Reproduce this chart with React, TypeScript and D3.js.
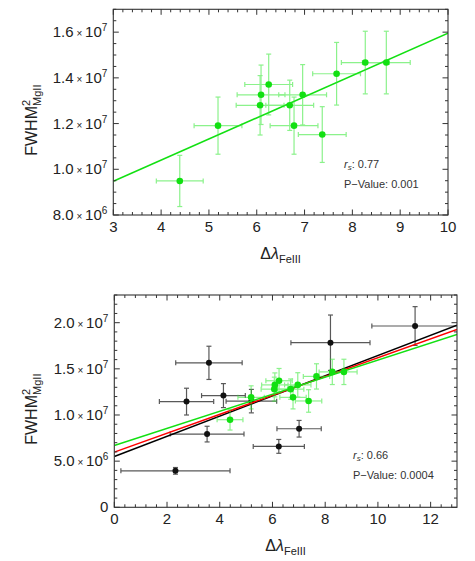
import React, { useEffect, useRef } from "react";
import * as d3 from "d3";

// green sample (shown in both panels)
const greenX = [4.39, 5.19, 6.07, 6.09, 6.25, 6.69, 6.78, 6.96, 7.37, 7.67, 8.27, 8.71];
const greenY = [9.49e6, 1.191e7, 1.28e7, 1.326e7, 1.371e7, 1.28e7, 1.191e7, 1.326e7, 1.152e7, 1.418e7, 1.467e7, 1.467e7];
const greenXErr = [0.49, 0.5, 0.5, 0.5, 0.5, 0.5, 0.5, 0.5, 0.5, 0.5, 0.5, 0.5];
const greenYErr = [1.12e6, 1.25e6, 1.3e6, 1.3e6, 1.33e6, 1.1e6, 1.25e6, 1.32e6, 1.22e6, 1.37e6, 1.37e6, 1.37e6];

// black sample (bottom panel only)
const blackX = [2.32, 2.74, 3.52, 3.59, 4.14, 5.2, 6.24, 7.01, 8.2, 11.41];
const blackY = [3.95e6, 1.145e7, 7.93e6, 1.565e7, 1.21e7, 1.15e7, 6.6e6, 8.51e6, 1.783e7, 1.964e7];
const blackXErr = [2.07, 1.03, 1.4, 1.26, 0.83, 0.96, 0.97, 0.84, 1.5, 1.64];
const blackYErr = [0.36e6, 1.45e6, 0.85e6, 1.8e6, 1.3e6, 1.27e6, 0.75e6, 0.9e6, 3.0e6, 2.1e6];

// linear fits: [intercept, slope]
const greenFit = [6.7e6, 9.25e5];
const blackFit = [5.5e6, 1.095e6];
const redFit = [5.98e6, 1.023e6];

// axes
const topXTicks = [3, 4, 5, 6, 7, 8, 9, 10];
const topYTicks = [8e6, 1e7, 1.2e7, 1.4e7, 1.6e7];
const bottomXTicks = [0, 2, 4, 6, 8, 10, 12];
const bottomYTicks = [0, 5e6, 1e7, 1.5e7, 2e7];

const topStats = ["0.77", "0.001"];
const bottomStats = ["0.66", "0.0004"];

const GREEN = "#12e012";
const FONT = "'Liberation Sans', Arial, sans-serif";

type Box = { left: number; right: number; top: number; bottom: number };

const drawPanel = (svg: any, id: string, box: Box, cfg: any) => {
  const x = d3.scaleLinear().domain(cfg.xDomain).range([box.left, box.right]);
  const y = d3.scaleLinear().domain(cfg.yDomain).range([box.bottom, box.top]);

  svg
    .append("clipPath")
    .attr("id", id)
    .append("rect")
    .attr("x", box.left)
    .attr("y", box.top)
    .attr("width", box.right - box.left)
    .attr("height", box.bottom - box.top);

  const g = svg.append("g");
  const plot = g.append("g").attr("clip-path", `url(#${id})`);

  // error bars + points for one series
  const drawSeries = (xs: number[], ys: number[], xe: number[], ye: number[], color: string, barColor: string, barOpacity: number, r: number) => {
    const cap = 2.5;
    const bars = plot.append("g").attr("stroke", barColor).attr("stroke-width", 1.2).attr("opacity", barOpacity);
    xs.forEach((xv, i) => {
      const cx = x(xv), cy = y(ys[i]);
      const x0 = x(xv - xe[i]), x1 = x(xv + xe[i]);
      const y0 = y(ys[i] - ye[i]), y1 = y(ys[i] + ye[i]);
      bars.append("line").attr("x1", x0).attr("x2", x1).attr("y1", cy).attr("y2", cy);
      bars.append("line").attr("x1", x0).attr("x2", x0).attr("y1", cy - cap).attr("y2", cy + cap);
      bars.append("line").attr("x1", x1).attr("x2", x1).attr("y1", cy - cap).attr("y2", cy + cap);
      bars.append("line").attr("x1", cx).attr("x2", cx).attr("y1", y0).attr("y2", y1);
      bars.append("line").attr("x1", cx - cap).attr("x2", cx + cap).attr("y1", y0).attr("y2", y0);
      bars.append("line").attr("x1", cx - cap).attr("x2", cx + cap).attr("y1", y1).attr("y2", y1);
    });
    plot
      .append("g")
      .selectAll("circle")
      .data(xs)
      .enter()
      .append("circle")
      .attr("cx", (d: number) => x(d))
      .attr("cy", (_: number, i: number) => y(ys[i]))
      .attr("r", r)
      .attr("fill", color);
  };

  const drawFit = (fit: number[], color: string) => {
    const line = d3
      .line<number>()
      .x((d) => x(d))
      .y((d) => y(fit[0] + fit[1] * d));
    plot.append("path").attr("d", line(cfg.xDomain)).attr("fill", "none").attr("stroke", color).attr("stroke-width", 1.5);
  };

  if (cfg.black) {
    drawSeries(blackX, blackY, blackXErr, blackYErr, "#111", "#222", 0.75, 3);
    drawFit(blackFit, "#000");
    drawFit(redFit, "#ff0000");
  }
  drawFit(greenFit, GREEN);
  drawSeries(greenX, greenY, greenXErr, greenYErr, GREEN, "#2ee82e", 0.55, 3.3);

  // frame
  g.append("rect")
    .attr("x", box.left)
    .attr("y", box.top)
    .attr("width", box.right - box.left)
    .attr("height", box.bottom - box.top)
    .attr("fill", "none")
    .attr("stroke", "#333")
    .attr("stroke-width", 1.1);

  // inward ticks on all four sides
  const ticks = g.append("g").attr("stroke", "#333").attr("stroke-width", 1);
  const xMinor = d3.range(cfg.xDomain[0], cfg.xDomain[1] + 1e-9, cfg.xMinor);
  const yMinor = d3.range(cfg.yDomain[0], cfg.yDomain[1] + 1, cfg.yMinor);
  const isMajor = (v: number, list: number[], eps: number) => list.some((t) => Math.abs(t - v) < eps);
  xMinor.forEach((v: number) => {
    const len = isMajor(v, cfg.xTicks, 1e-6) ? 5.5 : 3;
    const px = x(v);
    ticks.append("line").attr("x1", px).attr("x2", px).attr("y1", box.bottom).attr("y2", box.bottom - len);
    ticks.append("line").attr("x1", px).attr("x2", px).attr("y1", box.top).attr("y2", box.top + len);
  });
  yMinor.forEach((v: number) => {
    const len = isMajor(v, cfg.yTicks, 1) ? 5.5 : 3;
    const py = y(v);
    ticks.append("line").attr("x1", box.left).attr("x2", box.left + len).attr("y1", py).attr("y2", py);
    ticks.append("line").attr("x1", box.right).attr("x2", box.right - len).attr("y1", py).attr("y2", py);
  });

  // tick labels
  const labels = g.append("g").attr("font-family", FONT).attr("fill", "#222");
  cfg.xTicks.forEach((v: number) => {
    labels.append("text").attr("x", x(v)).attr("y", box.bottom + 17).attr("text-anchor", "middle").attr("font-size", 15).text(v);
  });
  cfg.yTicks.forEach((v: number) => {
    const t = labels
      .append("text")
      .attr("x", box.left - 6)
      .attr("y", y(v) + 5)
      .attr("text-anchor", "end")
      .attr("font-size", 15);
    if (v === 0) {
      t.text("0");
      return;
    }
    const exp = Math.floor(Math.log10(v));
    const mant = (v / Math.pow(10, exp)).toFixed(1);
    t.append("tspan").text(mant);
    t.append("tspan").attr("font-size", 10).text(" \u00d7 ");
    t.append("tspan").text("10");
    t.append("tspan").attr("font-size", 10).attr("dy", -6).text(exp);
  });

  // axis titles
  const cx = (box.left + box.right) / 2;
  const xt = g
    .append("text")
    .attr("x", cx)
    .attr("y", box.bottom + 44)
    .attr("text-anchor", "middle")
    .attr("font-family", FONT)
    .attr("font-size", 16)
    .attr("fill", "#222");
  xt.append("tspan").text("\u0394");
  xt.append("tspan").attr("font-style", "italic").text("\u03bb");
  xt.append("tspan").attr("font-size", 11).attr("dy", 4).text("FeIII");

  const cy = (box.top + box.bottom) / 2 + 8;
  const yt = g
    .append("text")
    .attr("transform", `translate(37,${cy}) rotate(-90)`)
    .attr("text-anchor", "middle")
    .attr("font-family", FONT)
    .attr("font-size", 16)
    .attr("fill", "#222");
  yt.append("tspan").text("FWHM");
  yt.append("tspan").attr("font-size", 11).attr("dy", -7).text("2");
  yt.append("tspan").attr("font-size", 11).attr("dx", -6).attr("dy", 11).text("MgII");

  // statistics
  const st = g.append("g").attr("font-family", FONT).attr("font-size", 11).attr("fill", "#333");
  const r = st.append("text").attr("x", cfg.statX).attr("y", cfg.statY);
  r.append("tspan").attr("font-style", "italic").text("r");
  r.append("tspan").attr("font-style", "italic").attr("font-size", 8).attr("dy", 2).text("s");
  r.append("tspan").attr("dy", -2).text(": " + cfg.stats[0]);
  st.append("text").attr("x", cfg.statX).attr("y", cfg.statY + 20).text("P\u2212Value: " + cfg.stats[1]);
};

const App = () => {
  const svgRef = useRef<SVGSVGElement>(null);

  useEffect(() => {
    const svg = d3.select(svgRef.current);
    svg.selectAll("*").remove();

    drawPanel(svg, "clipTop", { left: 113.3, right: 448, top: 9.3, bottom: 215 }, {
      xDomain: [3, 10],
      yDomain: [8e6, 1.7e7],
      xTicks: topXTicks,
      yTicks: topYTicks,
      xMinor: 0.2,
      yMinor: 5e5,
      black: false,
      stats: topStats,
      statX: 344,
      statY: 168,
    });

    drawPanel(svg, "clipBottom", { left: 114.3, right: 457, top: 295, bottom: 507.3 }, {
      xDomain: [0, 13],
      yDomain: [0, 2.3e7],
      xTicks: bottomXTicks,
      yTicks: bottomYTicks,
      xMinor: 0.4,
      yMinor: 1e6,
      black: true,
      stats: bottomStats,
      statX: 353,
      statY: 459,
    });
  }, []);

  return (
    <svg
      ref={svgRef}
      width={475}
      height={561}
      style={{ position: "absolute", left: 0, top: 0, background: "#fff" }}
    />
  );
};

export default App;
